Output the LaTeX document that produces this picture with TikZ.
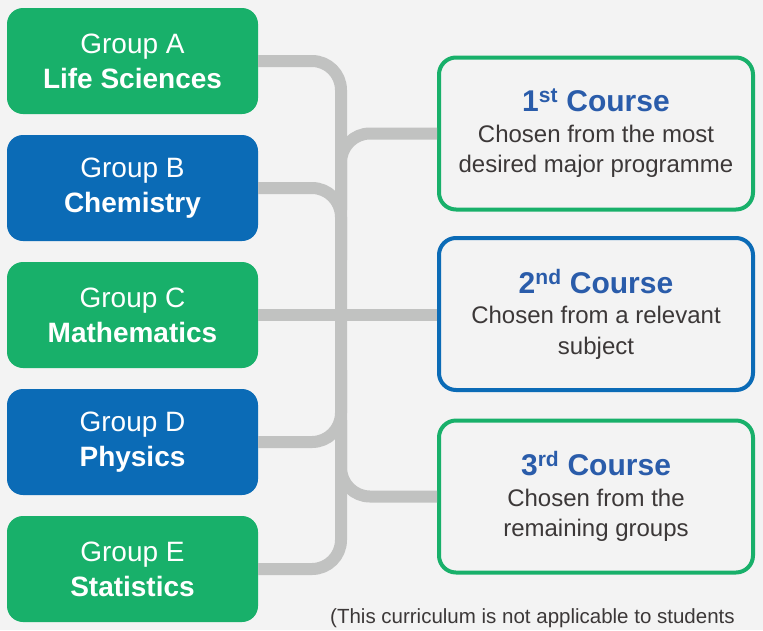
\documentclass[tikz,border=0pt]{standalone}
\usepackage{fontspec}
\setmainfont{Liberation Sans}
\definecolor{bgc}{RGB}{243,243,243}
\definecolor{grn}{RGB}{24,176,106}
\definecolor{blu}{RGB}{11,107,182}
\definecolor{ttl}{RGB}{42,92,170}
\definecolor{conc}{RGB}{193,194,193}
\definecolor{txt}{RGB}{60,56,56}
\tikzset{
  groupbox/.style={rectangle, rounded corners=16pt, minimum width=251pt, minimum height=106pt,
    inner sep=0pt, text=white, align=center, font=\fontsize{28}{35}\selectfont},
  coursebox/.style={rectangle, rounded corners=17pt, line width=4pt, fill=bgc, minimum width=314pt,
    minimum height=152pt, inner sep=0pt, text=txt, align=center, font=\fontsize{24}{30.5}\selectfont},
  conn/.style={draw=conc, line width=12pt, rounded corners=29pt}
}
\newcommand{\ctitle}[2]{{\fontsize{30}{31}\selectfont\bfseries\color{ttl}#1\textsuperscript{#2} Course}}
\begin{document}
\begin{tikzpicture}[x=1pt,y=-1pt]
\useasboundingbox (0,0) rectangle (763,630);
\fill[bgc] (0,0) rectangle (763,630);
% group boxes
\node[groupbox, fill=grn] (gA) at (132.5,61) {Group A\\\textbf{Life Sciences}};
\node[groupbox, fill=blu] (gB) at (132.5,188) {Group B\\\textbf{Chemistry}};
\node[groupbox, fill=grn] (gC) at (132.5,315) {Group C\\\textbf{Mathematics}};
\node[groupbox, fill=blu] (gD) at (132.5,442) {Group D\\\textbf{Physics}};
\node[groupbox, fill=grn] (gE) at (132.5,569) {Group E\\\textbf{Statistics}};
% junction coordinates on the trunk
\coordinate (tb) at (341,569);
\coordinate (jB) at (341,260);
\coordinate (jD) at (341,370);
\coordinate (j1) at (341,210);
\coordinate (j3) at (341,420);
% connectors (drawn before course boxes)
\draw[conn] (gA.east) -| (tb) -- (gE.east);
\draw[conn] (gB.east) -| (jB);
\draw[conn] (gD.east) -| (jD);
% course boxes
\node[coursebox, draw=grn] (c1) at (596,133.5) {\ctitle{1}{st}\\Chosen from the most\\desired major programme};
\node[coursebox, draw=blu] (c2) at (596,314) {\ctitle{2}{nd}\\Chosen from a relevant\\subject};
\node[coursebox, draw=grn] (c3) at (596,496.5) {\ctitle{3}{rd}\\Chosen from the\\remaining groups};
\draw[conn] (j1) |- (c1.west);
\draw[conn] (gC.east) -- (gC.east -| c2.west);
\draw[conn] (j3) |- (c3.west);
% footnote
\node[anchor=base west, inner sep=0pt, text=txt, font=\fontsize{20.5}{22}\selectfont] (note) at (330,623)
  {(This curriculum is not applicable to students};
\end{tikzpicture}
\end{document}
